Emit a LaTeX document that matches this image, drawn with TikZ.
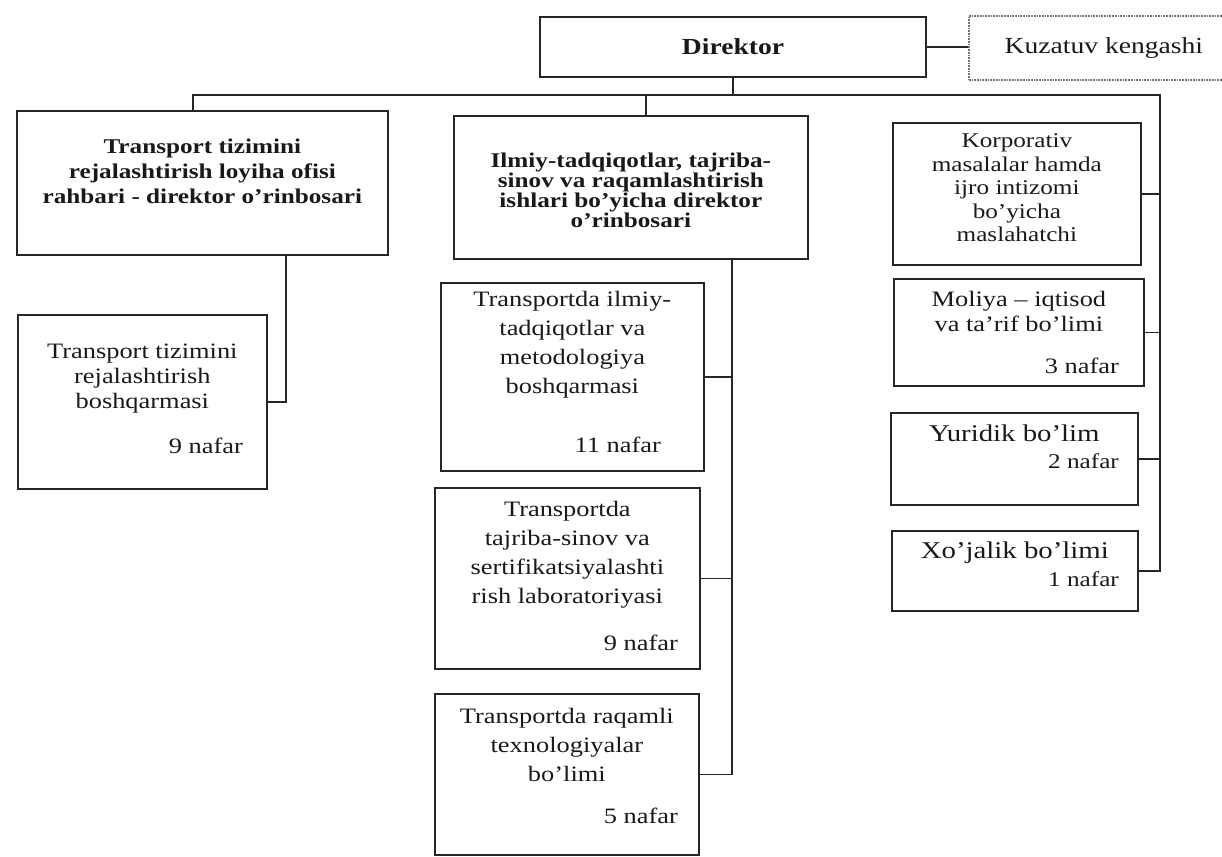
\documentclass[tikz,border=0pt]{standalone}
\usepackage{fontspec}
\setmainfont{Liberation Serif}[FakeStretch=1.2]
\usetikzlibrary{positioning}
\lineskiplimit=-20pt
% box body: width, height, top gap, lines
\newcommand{\unitbody}[4]{\parbox[c][#2][t]{#1}{\vspace*{#3}\centering #4\par}}
% staff count line: gap above, right gap, text
\newcommand{\nafar}[3]{\par\vspace{#1}{\raggedleft #3\hspace*{#2}\par}}

\begin{document}
\begin{tikzpicture}[x=1pt, y=-1pt,
    unit/.style={draw=black!85, line width=1.7pt, inner sep=0pt, anchor=north west, text=black!90},
    lead/.style={unit, font=\fontsize{21}{25}\selectfont\bfseries},
    dept/.style={unit, font=\fontsize{22}{29}\selectfont},
    link/.style={draw=black!85, line width=1.7pt}]
  \useasboundingbox (0,0) rectangle (1222,856);
  \clip (0,0) rectangle (1222,856);

  % top level
  \node[unit, anchor=center, minimum width=386, minimum height=60, font=\fontsize{23}{27}\selectfont\bfseries] (dir) at (733,47) {Direktor};
  \node[unit, anchor=west, draw=black!55, densely dotted, minimum width=270, minimum height=64, font=\fontsize{23}{27}\selectfont] (kuz) at (968,48) {Kuzatuv kengashi};

  \coordinate (bus) at (0,95);
  \coordinate (ldrop) at (193,0);
  \coordinate (mdrop) at (646,0);
  \coordinate (ltrunk) at (286,0);
  \coordinate (mtrunk) at (732,0);
  \coordinate (rtrunk) at (1160,0);

  % deputies
  \node[lead] (tl) at (16,110) {\unitbody{371pt}{144pt}{28pt}{Transport tizimini\\ rejalashtirish loyiha ofisi\\ rahbari - direktor o'rinbosari}};
  \node[lead, font=\fontsize{21}{18}\selectfont\bfseries] (mid) at (453,115) {\unitbody{354pt}{143pt}{37pt}{Ilmiy-tadqiqotlar, tajriba-\\ sinov va raqamlashtirish\\ ishlari bo'yicha direktor\\ o'rinbosari}};

  % left branch
  \node[dept, font=\fontsize{22}{25}\selectfont] (tlsub) at (17,314) {\unitbody{249pt}{174pt}{29pt}{Transport tizimini\\ rejalashtirish\\ boshqarmasi\nafar{20pt}{24pt}{9 nafar}}};

  % middle branch
  \node[dept] (m1) at (440,282) {\unitbody{263pt}{188pt}{8pt}{Transportda ilmiy-\\ tadqiqotlar va\\ metodologiya\\ boshqarmasi\nafar{30pt}{43pt}{11 nafar}}};
  \node[dept] (m2) at (434,487) {\unitbody{265pt}{181pt}{13pt}{Transportda\\ tajriba-sinov va\\ sertifikatsiyalashti\\ rish laboratoriyasi\nafar{18pt}{22pt}{9 nafar}}};
  \node[dept] (m3) at (434,693) {\unitbody{264pt}{161pt}{14pt}{Transportda raqamli\\ texnologiyalar\\ bo'limi\nafar{13pt}{21pt}{5 nafar}}};

  % right branch
  \node[dept, font=\fontsize{21}{23.5}\selectfont] (korp) at (892,122) {\unitbody{248pt}{142pt}{11pt}{Korporativ\\ masalalar hamda\\ ijro intizomi\\ bo'yicha\\ maslahatchi}};
  \node[dept, font=\fontsize{22}{25}\selectfont] (moliya) at (893,278) {\unitbody{250pt}{107pt}{12pt}{Moliya – iqtisod\\ va ta'rif bo'limi\nafar{17pt}{25pt}{3 nafar}}};
  \node[dept, font=\fontsize{24}{27}\selectfont] (yur) at (890,412) {\unitbody{247pt}{92pt}{12pt}{Yuridik bo'lim\nafar{0pt}{19pt}{\fontsize{21}{27}\selectfont 2 nafar}}};
  \node[dept, font=\fontsize{24}{28}\selectfont] (xoj) at (891,530) {\unitbody{246pt}{80pt}{11pt}{Xo'jalik bo'limi\nafar{0pt}{19pt}{\fontsize{21}{28}\selectfont 1 nafar}}};

  % connectors
  \draw[link] (dir.east) -- (dir.east -| kuz.west);
  \draw[link] (dir.south) -- (dir.south |- bus);
  \draw[link] (tl.north -| ldrop) -- (ldrop |- bus) -- (rtrunk |- bus) -- (rtrunk |- xoj.east) -- (xoj.east);
  \draw[link] (mid.north -| mdrop) -- (mdrop |- bus);
  \draw[link] (tl.south -| ltrunk) |- (tlsub.east);
  \draw[link] (mid.south -| mtrunk) |- (m3.east);
  \foreach \sub in {m1, m2}
    \draw[link] (\sub.east) -- (\sub.east -| mtrunk);
  \foreach \sub in {korp, moliya, yur}
    \draw[link] (\sub.east) -- (\sub.east -| rtrunk);
\end{tikzpicture}
\end{document}
